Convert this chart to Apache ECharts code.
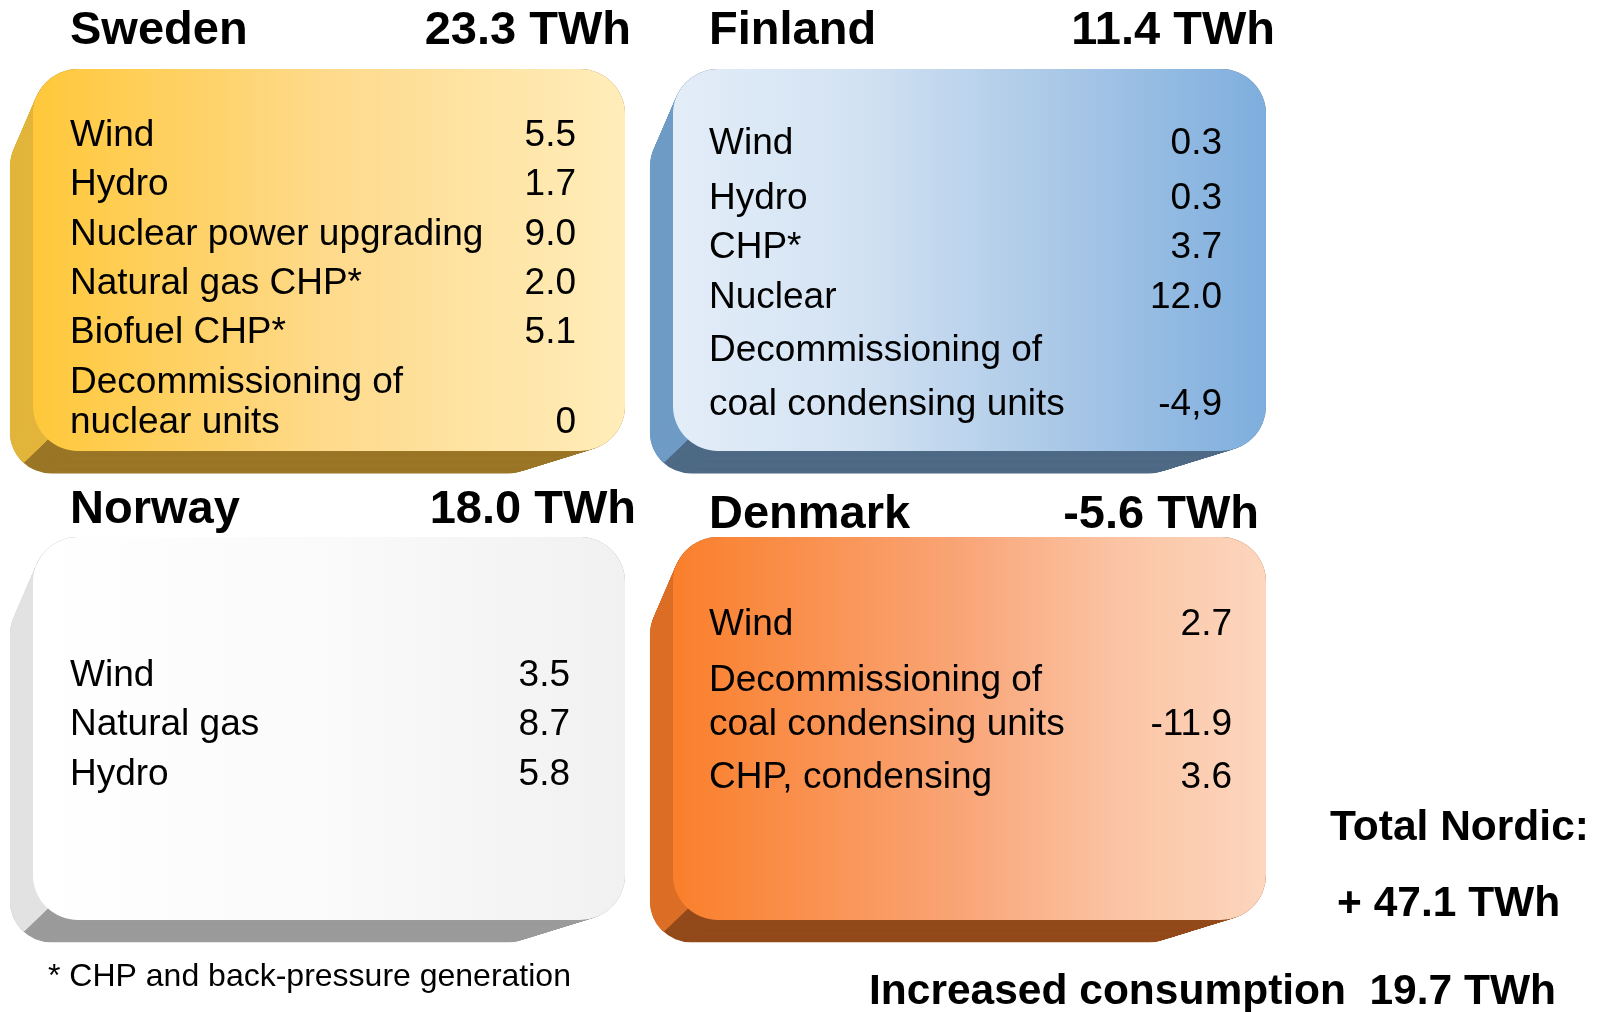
<!DOCTYPE html>
<html>
<head>
<meta charset="utf-8">
<script src="https://cdn.jsdelivr.net/npm/echarts@6/dist/echarts.min.js"></script>
<style>
html,body{margin:0;padding:0;background:#fff;}
#chart{width:1607px;height:1012px;}
</style>
</head>
<body>
<div id="chart"></div>
<script>
// ---------------- DATA ----------------
const countryNames = ['Sweden', 'Finland', 'Norway', 'Denmark'];
const countryTotals = ['23.3 TWh', '11.4 TWh', '18.0 TWh', '-5.6 TWh'];

const swedenSources = ['Wind', 'Hydro', 'Nuclear power upgrading', 'Natural gas CHP*', 'Biofuel CHP*', 'Decommissioning of\nnuclear units'];
const swedenValues = ['5.5', '1.7', '9.0', '2.0', '5.1', '0'];

const finlandSources = ['Wind', 'Hydro', 'CHP*', 'Nuclear', 'Decommissioning of\ncoal condensing units'];
const finlandValues = ['0.3', '0.3', '3.7', '12.0', '-4,9'];

const norwaySources = ['Wind', 'Natural gas', 'Hydro'];
const norwayValues = ['3.5', '8.7', '5.8'];

const denmarkSources = ['Wind', 'Decommissioning of\ncoal condensing units', 'CHP, condensing'];
const denmarkValues = ['2.7', '-11.9', '3.6'];

const footnote = '* CHP and back-pressure generation';
const totalTitle = 'Total Nordic:';
const totalValue = '+ 47.1 TWh';
const consumptionLabel = 'Increased consumption';
const consumptionValue = '19.7 TWh';

// ---------------- LAYOUT / STYLE ----------------
const FONT = '"Liberation Sans", Arial, Helvetica, sans-serif';
const boxLayout = [
  { x: 33, y: 69, w: 592, h: 382, labelX: 70, valueX: 576, titleY: 31, totalX: 631, lines: [136, 185, 235, 284, 333, 383, 423] },
  { x: 673, y: 69, w: 593, h: 382, labelX: 709, valueX: 1222, titleY: 31, totalX: 1275, lines: [144, 199, 248, 298, 351, 405] },
  { x: 33, y: 537, w: 592, h: 383, labelX: 70, valueX: 570, titleY: 510, totalX: 636, lines: [676, 725, 775] },
  { x: 673, y: 537, w: 593, h: 383, labelX: 709, valueX: 1232, titleY: 515, totalX: 1259, lines: [625, 681, 725, 778] }
];
const boxColors = [
  { front: [[0, '#FFC83A'], [0.5, '#FEDA8C'], [1, '#FFEDBA']], side: '#E2B53B', bottom: '#9A7627' },
  { front: [[0, '#E3EDF8'], [0.3, '#D4E3F3'], [0.65, '#AAC8E7'], [1, '#7EAEDD']], side: '#6F9CC6', bottom: '#4E6A85' },
  { front: [[0, '#FFFFFF'], [0.5, '#FAFAFA'], [1, '#F1F1F1']], side: '#E2E2E2', bottom: '#9B9B9B' },
  { front: [[0, '#FA7F2B'], [0.5, '#F9A679'], [0.75, '#FBC4A4'], [1, '#FCD6BE']], side: '#DC6E26', bottom: '#934A1B' }
];
const sourceLists = [swedenSources, finlandSources, norwaySources, denmarkSources];
const valueLists = [swedenValues, finlandValues, norwayValues, denmarkValues];

function arcPts(cx, cy, r, a0, a1, n) {
  const pts = [];
  for (let i = 0; i <= n; i++) {
    const a = (a0 + (a1 - a0) * i / n) * Math.PI / 180;
    pts.push([cx + r * Math.cos(a), cy + r * Math.sin(a)]);
  }
  return pts;
}

function boxElements(b, c) {
  const els = [];
  const N = 48, k = 0.911, R = 45;
  const vx = b.x - 258, vy = b.y + 634;
  const steps = [];
  for (let i = N; i >= 0; i--) {
    const s = 1 - (i / N) * (1 - k);
    steps.push({ x: vx + s * (b.x - vx), y: vy + s * (b.y - vy), w: b.w * s, h: b.h * s, r: R * s });
  }
  // extrusion body (dark)
  steps.forEach(st => {
    els.push({ type: 'rect', silent: true, shape: { x: st.x, y: st.y, width: st.w, height: st.h, r: st.r }, style: { fill: c.bottom } });
  });
  // lighter left side
  steps.forEach(st => {
    const d = 1.2, r = st.r - d;
    const x = st.x + d, y = st.y + d, h = st.h - 2 * d;
    let pts = arcPts(x + r, y + r, r, 205, 180, 8);
    pts.push([x, y + h - r]);
    pts = pts.concat(arcPts(x + r, y + h - r, r, 180, 132, 8));
    els.push({ type: 'polyline', silent: true, shape: { points: pts }, style: { stroke: c.side, lineWidth: 2.6, fill: null } });
  });
  // front face
  els.push({
    type: 'rect', silent: true,
    shape: { x: b.x, y: b.y, width: b.w, height: b.h, r: R },
    style: { fill: { type: 'linear', x: 0, y: 0, x2: 1, y2: 0, colorStops: c.front.map(s => ({ offset: s[0], color: s[1] })) } }
  });
  return els;
}

function txt(text, x, y, size, bold, align) {
  return {
    type: 'text', silent: true, x: x, y: y,
    style: {
      text: text, font: (bold ? 'bold ' : '') + size + 'px ' + FONT, fill: '#000',
      textAlign: align || 'left', textVerticalAlign: 'middle', align: align || 'left', verticalAlign: 'middle'
    }
  };
}

const elements = [];
boxLayout.forEach((b, bi) => {
  boxElements(b, boxColors[bi]).forEach(e => elements.push(e));
  elements.push(txt(countryNames[bi], b.labelX, b.titleY, 47, true, 'left'));
  elements.push(txt(countryTotals[bi], b.totalX, b.titleY, 47, true, 'right'));
  let li = 0;
  sourceLists[bi].forEach((src, si) => {
    const parts = src.split('\n');
    parts.forEach(p => {
      elements.push(txt(p, b.labelX, b.lines[li], 37, false, 'left'));
      li++;
    });
    elements.push(txt(valueLists[bi][si], b.valueX, b.lines[li - 1], 37, false, 'right'));
  });
});
elements.push(txt(footnote, 48, 977, 32, false, 'left'));
elements.push(txt(totalTitle, 1330, 828, 42.5, true, 'left'));
elements.push(txt(totalValue, 1337, 904, 42.5, true, 'left'));
elements.push(txt(consumptionLabel, 869, 992, 42.5, true, 'left'));
elements.push(txt(consumptionValue, 1556, 992, 42.5, true, 'right'));

const chart = echarts.init(document.getElementById('chart'), null, { renderer: 'canvas' });
chart.setOption({
  backgroundColor: '#ffffff',
  animation: false,
  graphic: { elements: elements }
});
</script>
</body>
</html>
